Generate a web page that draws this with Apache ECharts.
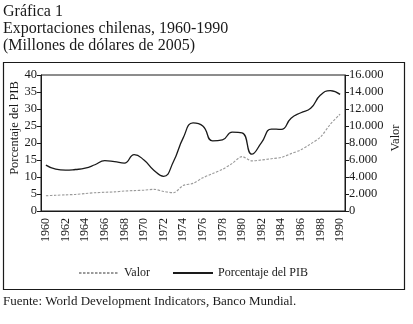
<!DOCTYPE html>
<html>
<head>
<meta charset="utf-8">
<script src="https://cdn.jsdelivr.net/npm/echarts@6/dist/echarts.min.js"></script>
<style>
html,body{margin:0;padding:0;background:#fff;}
#c{width:413px;height:324px;}
</style>
</head>
<body>
<div id="c"></div>
<script>
var years = [];
for (var y = 1960; y <= 1990; y++) years.push(String(y));

var porcentajePIB = [13.5, 12.3, 12.0, 12.2, 12.6, 13.6, 14.8, 14.5, 14.1, 16.6,
  15.0, 12.0, 10.2, 14.5, 21.5, 25.9, 25.0, 20.6, 20.9, 23.2,
  23.0, 16.7, 20.2, 24.1, 24.0, 27.3, 28.9, 30.2, 34.1, 35.4, 34.3];

var valor = [1800, 1850, 1900, 1950, 2050, 2150, 2200, 2250, 2350, 2400,
  2450, 2550, 2300, 2150, 3000, 3250, 3900, 4400, 4900, 5600,
  6400, 5900, 6000, 6150, 6300, 6750, 7200, 7900, 8700, 10200, 11400];

var titleLines = ['Gráfica 1', 'Exportaciones chilenas, 1960-1990', '(Millones de dólares de 2005)'];
var footer = 'Fuente: World Development Indicators, Banco Mundial.';

var FONT = '"Liberation Serif", "DejaVu Serif", serif';
var ink = '#1a1a1a';

var chart = echarts.init(document.getElementById('c'), null, {renderer: 'canvas'});

function thousands(v) {
  return String(v).replace(/\B(?=(\d{3})+(?!\d))/g, '.');
}

var graphics = [
  {type: 'rect', shape: {x: 3.5, y: 62.5, width: 401, height: 227}, style: {fill: 'none', stroke: ink, lineWidth: 1.2}, silent: true},
  {type: 'text', x: 15, y: 128, rotation: Math.PI / 2, style: {text: 'Porcentaje del PIB', font: '12.5px ' + FONT, fill: ink, textAlign: 'center', textVerticalAlign: 'middle'}},
  {type: 'text', x: 396, y: 138, rotation: Math.PI / 2, style: {text: 'Valor', font: '12.5px ' + FONT, fill: ink, textAlign: 'center', textVerticalAlign: 'middle'}},
  {type: 'text', left: 3, top: 295, style: {text: footer, font: '13px ' + FONT, fill: ink}}
];
titleLines.forEach(function (t, i) {
  graphics.push({type: 'text', left: 3, top: 4 + i * 17, style: {text: t, font: '16px ' + FONT, fill: ink}});
});

chart.setOption({
  animation: false,
  backgroundColor: '#fff',
  textStyle: {fontFamily: FONT, color: ink},
  grid: {left: 41, right: 68, top: 75, bottom: 113, show: true, borderColor: ink, borderWidth: 1},
  legend: {
    left: 73, top: 262, itemWidth: 40, itemHeight: 10, itemGap: 22,
    itemStyle: {opacity: 0},
    textStyle: {fontFamily: FONT, fontSize: 12, color: ink},
    data: ['Valor', 'Porcentaje del PIB']
  },
  xAxis: {
    type: 'category', data: years, boundaryGap: true,
    axisLine: {lineStyle: {color: ink}},
    axisTick: {interval: 0, length: 4, lineStyle: {color: ink}},
    axisLabel: {interval: 1, rotate: 90, fontSize: 12, color: ink, fontFamily: FONT, margin: 7}
  },
  yAxis: [
    {
      type: 'value', min: 0, max: 40, interval: 5, position: 'left',
      axisLine: {show: true, lineStyle: {color: ink}},
      axisTick: {show: true, length: 4, lineStyle: {color: ink}},
      splitLine: {show: false},
      axisLabel: {fontSize: 12.5, color: ink, fontFamily: FONT, margin: 4}
    },
    {
      type: 'value', min: 0, max: 16000, interval: 2000, position: 'right',
      axisLine: {show: true, lineStyle: {color: ink}},
      axisTick: {show: true, length: 4, lineStyle: {color: ink}},
      splitLine: {show: false},
      axisLabel: {fontSize: 12.5, color: ink, fontFamily: FONT, margin: 4, formatter: thousands}
    }
  ],
  series: [
    {
      name: 'Valor', type: 'line', yAxisIndex: 1, data: valor,
      smooth: 0.3, symbol: 'none', showSymbol: false,
      lineStyle: {color: '#9a9a9a', width: 1.1, type: [2.5, 1.5]},
      itemStyle: {color: '#9a9a9a'}
    },
    {
      name: 'Porcentaje del PIB', type: 'line', yAxisIndex: 0, data: porcentajePIB,
      smooth: 0.5, symbol: 'none', showSymbol: false,
      lineStyle: {color: ink, width: 1.3},
      itemStyle: {color: ink}
    }
  ],
  graphic: graphics
});
</script>
</body>
</html>
